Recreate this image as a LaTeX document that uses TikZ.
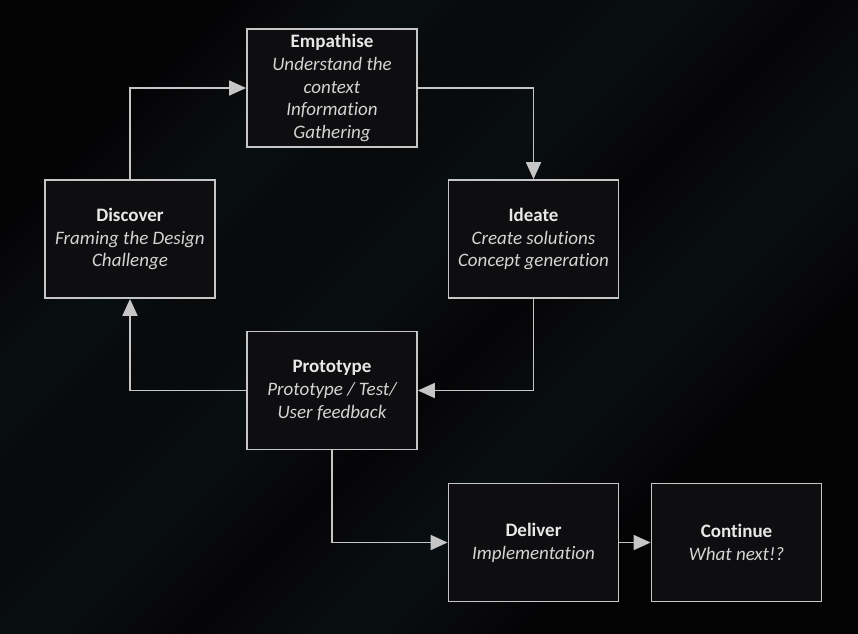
\documentclass[tikz,border=0pt]{standalone}
\usepackage{fontspec}
\setmainfont{Carlito}[Ligatures=NoCommon]
\usetikzlibrary{arrows.meta}
\definecolor{bgdark}{HTML}{030304}
\definecolor{streak}{HTML}{161D21}
\definecolor{boxfill}{HTML}{0E0E10}
\definecolor{linegray}{HTML}{C6C6C6}
\definecolor{titlegray}{HTML}{E8E8E8}
\definecolor{subgray}{HTML}{D4D4D4}
\newcommand{\stagetitle}[1]{{\upshape\bfseries\color{titlegray}#1}}
\begin{document}
\begin{tikzpicture}[x=1pt, y=-1pt, >={Triangle[length=17pt,width=15pt]},
	box/.style={draw=linegray, line width=1.8pt, fill=boxfill, minimum width=170pt, minimum height=118pt, align=center, inner sep=2pt, text=subgray, font=\fontsize{19}{22.7}\selectfont\itshape},
	link/.style={->, draw=linegray, line width=1.8pt}]
	% background and faint streaks
	\useasboundingbox (0,0) rectangle (858,633);
	\fill[bgdark] (-3,-3) rectangle (861,636);
	\begin{scope}
	\clip (-3,-3) rectangle (861,636);
	\foreach \c in {400,660,980}
		\foreach \w in {20,40,...,240}
			\draw[streak, line width=\w pt, opacity=0.07] (\c+200,-200) -- (-200,\c+200);
	\end{scope}
	% stages
	\node[box] (empathise) at (332,88) {\stagetitle{Empathise}\\Understand the\\context\\Information\\Gathering};
	\node[box] (discover) at (130,239) {\stagetitle{Discover}\\Framing the Design\\Challenge};
	\node[box] (ideate) at (533.5,239) {\stagetitle{Ideate}\\Create solutions\\Concept generation};
	\node[box] (prototype) at (332,390.5) {\stagetitle{Prototype}\\Prototype / Test/\\User feedback};
	\node[box] (deliver) at (533.5,542.5) {\stagetitle{Deliver}\\Implementation};
	\node[box] (continue) at (736.5,542.5) {\stagetitle{Continue}\\What next!?};
	% connectors
	\draw[link] (discover.north) |- (empathise.west);
	\draw[link] (empathise.east) -| (ideate.north);
	\draw[link] (ideate.south) |- (prototype.east);
	\draw[link] (prototype.west) -| (discover.south);
	\draw[link] (prototype.south) |- (deliver.west);
	\draw[link] (deliver) -- (continue);
\end{tikzpicture}
\end{document}
